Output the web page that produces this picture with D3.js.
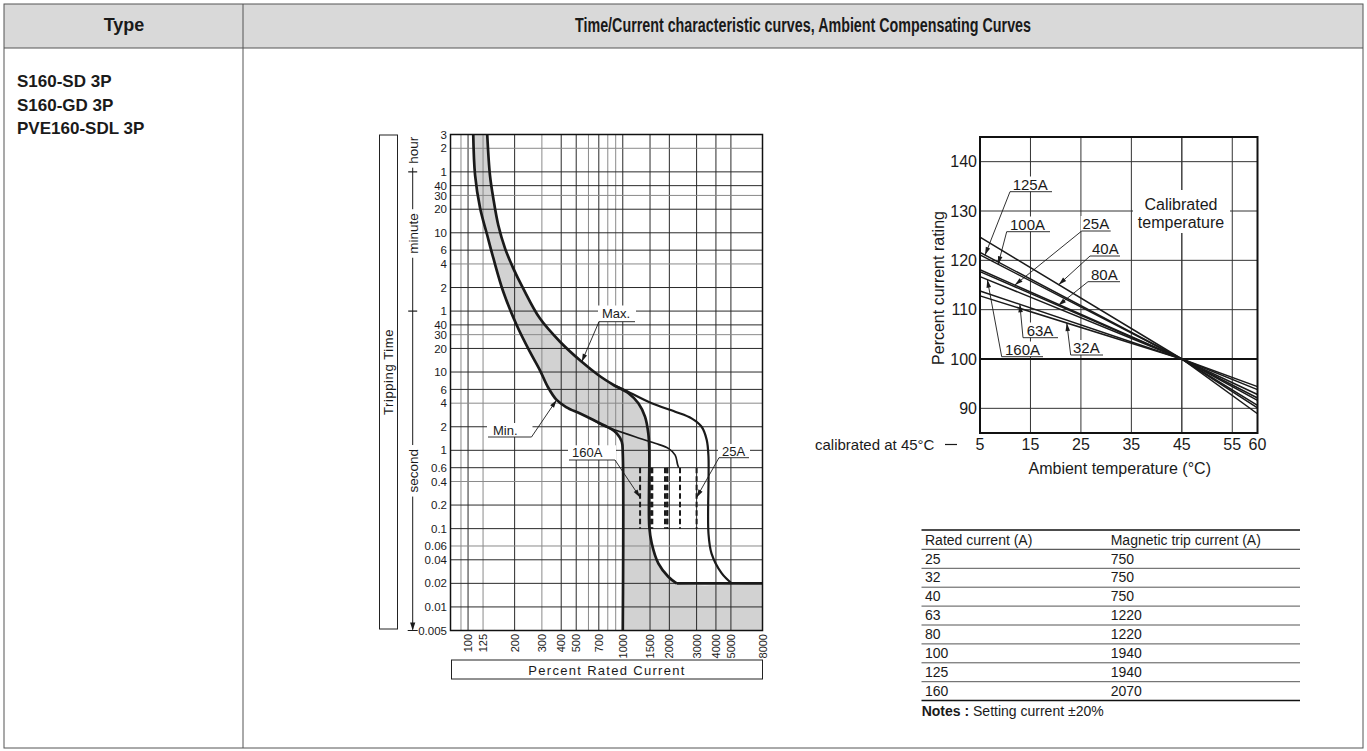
<!DOCTYPE html>
<html>
<head>
<meta charset="utf-8">
<script src="https://cdn.jsdelivr.net/npm/d3@7/dist/d3.min.js"></script>
<style>
html,body{margin:0;padding:0;background:#fff;}
svg{display:block;}
text{font-family:"Liberation Sans",Arial,Helvetica,sans-serif;fill:#1a1a1a;}
</style>
</head>
<body>
<svg id="chart" width="1367" height="751"></svg>
<script>
// ---------------- DATA ----------------
const headerLabels = ["Type", "Time/Current characteristic curves, Ambient Compensating Curves"];
const typeNames = ["S160-SD 3P", "S160-GD 3P", "PVE160-SDL 3P"];

// Tripping time axis (seconds)
const timeTicks = [10800, 7200, 3600, 2400, 1800, 1200, 600, 360, 240, 120, 60, 40, 30, 20, 10, 6, 4, 2, 1, 0.6, 0.4, 0.2, 0.1, 0.06, 0.04, 0.02, 0.01, 0.005];
const timeTickLabels = ["3","2","1","40","30","20","10","6","4","2","1","40","30","20","10","6","4","2","1","0.6","0.4","0.2","0.1","0.06","0.04","0.02","0.01","0.005"];
const timeGridLight = [7200, 1800, 240, 30, 4, 0.4, 0.06];
const timeUnits = ["hour", "minute", "second"];
const timeUnitBounds = [10800, 3600, 60, 0.005];

// Percent rated current axis
const currentTicks = [100,125,200,300,400,500,700,1000,1500,2000,3000,4000,5000,8000];
const currentGrid = [90,100,125,200,300,400,500,600,700,800,900,1000,1500,2000,3000,4000,5000];
const currentGridLight = [90,125,300,600,800,900];

// Curves: [percent rated current, seconds]
const minCurve = [[108,10800],[111,3280],[119.6,1245],[132.9,562],[145.6,286],[168.9,106],[206,39.9],[250.7,18.2],[291,10.6],[328,6.44],[373.5,4.4],[430,3.57],[530,2.95],[646,2.44],[827,1.91],[914,1.65],[985,1.29],[1000,0.9],[1000,0.005]];
const maxCurve = [[133,10800],[138.5,3280],[145.6,1656],[156.7,755],[173.4,380],[196,211],[227,117],[291,48.5],[393,24.4],[543,13.5],[694,9.16],[872,6.83],[1088,5.35],[1261,3.99],[1392,2.69],[1462,1.65],[1484,1.01],[1484,0.106],[1538,0.065],[1697,0.036],[1969,0.0243],[2228,0.02]];
const instantLine = [[2228,0.02],[8000,0.02]];
const curve25Max = [[872,6.83],[1009,6.0],[1538,3.99],[2181,3.11],[2782,2.56],[3233,2.0],[3487,1.36],[3580,0.83],[3580,0.087],[3749,0.048],[4353,0.027],[5053,0.02]];
const curve25Min = [[646,2.44],[751,2.05],[891,1.82],[1200,1.49],[1615,1.23],[1969,1.06],[2181,0.87],[2260,0.66],[2300,0.6]];
const dashTimes = [0.6, 0.1];

// Magnetic trip table
const ratedCurrent = [25,32,40,63,80,100,125,160];
const magneticTrip = [750,750,750,1220,1220,1940,1940,2070];
const tableHeaders = ["Rated current (A)", "Magnetic trip current (A)"];

// Ambient compensating curves
const tempTicks = [5,15,25,35,45,55,60];
const tempGrid = [15,25,35,45,55];
const ratingTicks = [90,100,110,120,130,140];
const seriesNames = ["40A","125A","100A","25A","80A","160A","63A","32A"];
const seriesTemps = [5,45,60];
const ratingAt5  = [124.7,121.6,121.1,118.1,117.7,116.7,113.8,112.8];
const ratingAt45 = [100,100,100,100,100,100,100,100];
const ratingAt60 = [88.9,90.1,90.6,91.6,92.1,92.8,93.8,94.4];
const leaderTemps = [20.6,6.0,8.6,11.9,20.5,6.45,12.9,22.2];

// ---------------- DRAWING ----------------
const svg = d3.select("#chart");
const INK = "#1a1a1a";

// table frame
svg.append("rect").attr("x",4).attr("y",4).attr("width",1359).attr("height",44).attr("fill","#d9d9d9");
svg.append("rect").attr("x",4).attr("y",4).attr("width",1359).attr("height",744)
  .attr("fill","none").attr("stroke","#555").attr("stroke-width",1);
svg.append("line").attr("x1",4).attr("x2",1363).attr("y1",48).attr("y2",48).attr("stroke","#555");
svg.append("line").attr("x1",243).attr("x2",243).attr("y1",4).attr("y2",748).attr("stroke","#555");
svg.append("text").attr("x",124).attr("y",31).attr("text-anchor","middle")
  .attr("font-size",18).attr("font-weight","bold").text(headerLabels[0]);
svg.append("text").attr("x",803).attr("y",31.5).attr("text-anchor","middle")
  .attr("font-size",19.5).attr("font-weight","bold")
  .attr("textLength",456).attr("lengthAdjust","spacingAndGlyphs").text(headerLabels[1]);
svg.selectAll("text.type").data(typeNames).join("text").attr("class","type")
  .attr("x",17).attr("y",(d,i)=>87+i*23.5).attr("font-size",17).attr("font-weight","bold").text(d=>d);

// helpers
function arrow(g, x1, y1, x2, y2, w) {
  g.append("line").attr("x1",x1).attr("y1",y1).attr("x2",x2).attr("y2",y2)
    .attr("stroke",INK).attr("stroke-width",w||0.9);
  const a = Math.atan2(y2-y1, x2-x1), L = 8, H = 2.3;
  const bx = x2 - L*Math.cos(a), by = y2 - L*Math.sin(a);
  const px = -Math.sin(a)*H, py = Math.cos(a)*H;
  g.append("path").attr("d",`M${x2},${y2}L${bx+px},${by+py}L${bx-px},${by-py}Z`).attr("fill",INK);
}
function tag(g, text, tx, base, size, ux1, ux2, uy) {
  g.append("rect").attr("x",ux1-1).attr("y",base-size+1).attr("width",ux2-ux1+2).attr("height",uy-(base-size+1))
    .attr("fill","#fff");
  g.append("text").attr("x",tx).attr("y",base).attr("font-size",size).text(text);
  g.append("line").attr("x1",ux1).attr("x2",ux2).attr("y1",uy).attr("y2",uy).attr("stroke",INK).attr("stroke-width",0.9);
}

// ===== Left chart: time/current =====
const xL = d3.scaleLog().domain([77, 8000]).range([450.5, 762.5]);
const yL = d3.scaleLog().domain([0.005, 10800]).range([630.5, 134.5]);
const gL = svg.append("g");
const smooth = d3.line().x(d=>xL(d[0])).y(d=>yL(d[1])).curve(d3.curveCatmullRom.alpha(0.5));
const straight = d3.line().x(d=>xL(d[0])).y(d=>yL(d[1]));

// shaded band
const upperRev = [instantLine[1]].concat(maxCurve.slice().reverse());
const bandPath = smooth(minCurve) + "L" + xL(8000) + "," + yL(0.005) + smooth(upperRev).replace(/^M/,"L") + "Z";
gL.append("path").attr("d",bandPath).attr("fill","#d2d2d2");

// grid
gL.selectAll("line.vg").data(currentGrid).join("line").attr("class","vg")
  .attr("x1",d=>xL(d)).attr("x2",d=>xL(d)).attr("y1",yL(10800)).attr("y2",yL(0.005))
  .attr("stroke",d=>currentGridLight.includes(d)?"#8a8a8a":"#2a2a2a").attr("stroke-width",1);
gL.selectAll("line.hg").data(timeTicks.slice(1,-1)).join("line").attr("class","hg")
  .attr("x1",xL(77)).attr("x2",xL(8000)).attr("y1",d=>yL(d)).attr("y2",d=>yL(d))
  .attr("stroke",d=>timeGridLight.includes(d)?"#8a8a8a":"#2a2a2a").attr("stroke-width",1);

// dashed magnetic trip lines
const tripPct = ratedCurrent.map((r,i)=>magneticTrip[i]/r*100);
gL.selectAll("line.dash").data(tripPct).join("line").attr("class","dash")
  .attr("x1",d=>xL(d)).attr("x2",d=>xL(d)).attr("y1",yL(dashTimes[0])).attr("y2",yL(dashTimes[1]))
  .attr("stroke",INK).attr("stroke-width",2).attr("stroke-dasharray","5.5,3");

// curves
gL.append("path").attr("d",smooth(curve25Min)).attr("fill","none").attr("stroke",INK).attr("stroke-width",1.7);
gL.append("path").attr("d",smooth(curve25Max)).attr("fill","none").attr("stroke",INK).attr("stroke-width",2.2);
gL.append("path").attr("d",smooth(minCurve)).attr("fill","none").attr("stroke",INK).attr("stroke-width",2.7);
gL.append("path").attr("d",smooth(maxCurve)).attr("fill","none").attr("stroke",INK).attr("stroke-width",2.7);
gL.append("path").attr("d",straight(instantLine)).attr("fill","none").attr("stroke",INK).attr("stroke-width",2.7);

// frame
gL.append("rect").attr("x",xL(77)).attr("y",yL(10800)).attr("width",xL(8000)-xL(77)).attr("height",yL(0.005)-yL(10800))
  .attr("fill","none").attr("stroke","#111").attr("stroke-width",1.5);

// tick labels
gL.selectAll("text.yt").data(timeTicks).join("text").attr("class","yt")
  .attr("x",447).attr("y",d=>yL(d)).attr("dy","0.36em").attr("text-anchor","end")
  .attr("font-size",11.5).text((d,i)=>timeTickLabels[i]);
gL.selectAll("text.xt").data(currentTicks).join("text").attr("class","xt")
  .attr("transform",d=>`translate(${xL(d)+4},634) rotate(-90)`).attr("text-anchor","end")
  .attr("font-size",11).text(d=>d);

// axis title boxes
gL.append("rect").attr("x",379.5).attr("y",135).attr("width",18).attr("height",494)
  .attr("fill","none").attr("stroke","#222").attr("stroke-width",1);
gL.append("text").attr("transform","translate(392.5,372) rotate(-90)").attr("text-anchor","middle")
  .attr("font-size",13).attr("letter-spacing",0.6).text("Tripping Time");
gL.append("rect").attr("x",451.5).attr("y",660).attr("width",311).attr("height",19)
  .attr("fill","none").attr("stroke","#222").attr("stroke-width",1);
gL.append("text").attr("x",607).attr("y",674.5).attr("text-anchor","middle")
  .attr("font-size",13).attr("letter-spacing",1.3).text("Percent Rated Current");

// unit axis
const ux = 412.7;
gL.append("line").attr("x1",ux).attr("x2",ux).attr("y1",yL(10800)+1).attr("y2",yL(0.005)-1).attr("stroke",INK).attr("stroke-width",1);
[yL(10800), yL(0.005)].forEach((yy,i)=>{
  gL.append("line").attr("x1",ux-5).attr("x2",ux+5).attr("y1",yy).attr("y2",yy).attr("stroke",INK).attr("stroke-width",1);
  const dir = i===0 ? 1 : -1;
  gL.append("path").attr("d",`M${ux},${yy}L${ux-2.6},${yy+dir*8}L${ux+2.6},${yy+dir*8}Z`).attr("fill",INK);
});
[3600, 60].forEach(v=>{
  gL.append("line").attr("x1",ux-4.5).attr("x2",ux+4.5).attr("y1",yL(v)).attr("y2",yL(v)).attr("stroke",INK).attr("stroke-width",1.2);
});
const unitOffsets = [-3, -8, 0];
timeUnits.forEach((u,i)=>{
  const cy = (yL(timeUnitBounds[i]) + yL(timeUnitBounds[i+1]))/2 + unitOffsets[i];
  const t = gL.append("text").attr("transform",`translate(${ux+4.8},${cy}) rotate(-90)`).attr("text-anchor","middle")
    .attr("font-size",13.5).text(u);
  const len = t.node().getComputedTextLength();
  gL.insert("rect", () => t.node()).attr("x",ux-6).attr("y",cy-len/2-4).attr("width",12).attr("height",len+8).attr("fill","#fff");
});

// annotations (left)
const pMax = maxCurve[9], pMin = minCurve[10];
tag(gL, "Max.", 602, 317.5, 13, 599, 635, 321.7);
arrow(gL, 599, 321.7, xL(pMax[0]), yL(pMax[1]));
tag(gL, "Min.", 493, 435, 13, 488, 531.5, 437);
arrow(gL, 531.5, 437, xL(pMin[0]), yL(pMin[1]));
tag(gL, "160A", 572, 457.3, 13, 569, 615, 460);
arrow(gL, 615, 460, xL(tripPct[7]), yL(0.25));
tag(gL, "25A", 722, 456, 13, 719, 749, 457.7);
arrow(gL, 719, 457.7, xL(tripPct[0]), yL(0.25));

// ===== Right chart: ambient compensation =====
const xR = d3.scaleLinear().domain([5,60]).range([980,1257.5]);
const yR = d3.scaleLinear().domain([85,145]).range([433,137]);
const gR = svg.append("g");
gR.selectAll("line.rv").data(tempGrid).join("line").attr("class","rv")
  .attr("x1",d=>xR(d)).attr("x2",d=>xR(d)).attr("y1",yR(145)).attr("y2",yR(85))
  .attr("stroke","#333").attr("stroke-width",d=>d===45?1.4:1);
gR.selectAll("line.rh").data(ratingTicks).join("line").attr("class","rh")
  .attr("x1",xR(5)).attr("x2",xR(60)).attr("y1",d=>yR(d)).attr("y2",d=>yR(d))
  .attr("stroke",d=>d===100?"#111":"#333").attr("stroke-width",d=>d===100?2:1);

// white boxes for labels
gR.append("rect").attr("x",1133).attr("y",190).attr("width",97).attr("height",43).attr("fill","#fff");
const rLabels = [
  {n:"40A",  tx:1092,   base:254,   u1:1090,   u2:1120, uy:256},
  {n:"125A", tx:1012.7, base:189.5, u1:1010,   u2:1052, uy:191.7},
  {n:"100A", tx:1010,   base:229.5, u1:1006.7, u2:1050, uy:231.7},
  {n:"25A",  tx:1082.5, base:229,   u1:1081.7, u2:1110.7, uy:231},
  {n:"80A",  tx:1091,   base:279.5, u1:1088,   u2:1120, uy:281.7},
  {n:"160A", tx:1005,   base:354.5, u1:1001.7, u2:1043, uy:356.7},
  {n:"63A",  tx:1026.7, base:335.5, u1:1023,   u2:1058, uy:337.7},
  {n:"32A",  tx:1073,   base:353,   u1:1070.7, u2:1103, uy:355}
];
rLabels.forEach(l=>{
  gR.append("rect").attr("x",l.u1-1).attr("y",l.base-13).attr("width",l.u2-l.u1+2).attr("height",l.uy-l.base+13).attr("fill","#fff");
});

// series
const lineR = d3.line().x(d=>xR(d[0])).y(d=>yR(d[1]));
const series = seriesNames.map((n,i)=>({name:n, pts: seriesTemps.map((t,j)=>[t, [ratingAt5[i],ratingAt45[i],ratingAt60[i]][j]])}));
gR.selectAll("path.s").data(series).join("path").attr("class","s")
  .attr("d",d=>lineR(d.pts)).attr("fill","none").attr("stroke",INK).attr("stroke-width",1.5);

gR.append("rect").attr("x",xR(5)).attr("y",yR(145)).attr("width",xR(60)-xR(5)).attr("height",yR(85)-yR(145))
  .attr("fill","none").attr("stroke","#111").attr("stroke-width",2);

// labels + leaders
function valAt(s, t){ const p=s.pts; const a = t<=45 ? p[0] : p[1], b = t<=45 ? p[1] : p[2];
  return a[1] + (b[1]-a[1])*(t-a[0])/(b[0]-a[0]); }
rLabels.forEach((l,i)=>{
  gR.append("text").attr("x",l.tx).attr("y",l.base).attr("font-size",15).text(l.n);
  gR.append("line").attr("x1",l.u1).attr("x2",l.u2).attr("y1",l.uy).attr("y2",l.uy).attr("stroke",INK).attr("stroke-width",0.9);
  const s = series[seriesNames.indexOf(l.n)];
  const t = leaderTemps[seriesNames.indexOf(l.n)];
  arrow(gR, l.u1, l.uy, xR(t), yR(valAt(s,t)));
});
gR.append("text").attr("x",1181).attr("y",210).attr("text-anchor","middle").attr("font-size",16).text("Calibrated");
gR.append("text").attr("x",1181).attr("y",228).attr("text-anchor","middle").attr("font-size",16).text("temperature");

// axes text
gR.selectAll("text.ry").data(ratingTicks).join("text").attr("class","ry")
  .attr("x",977).attr("y",d=>yR(d)).attr("dy","0.36em").attr("text-anchor","end").attr("font-size",16).text(d=>d);
gR.selectAll("text.rx").data(tempTicks).join("text").attr("class","rx")
  .attr("x",d=>xR(d)).attr("y",449.5).attr("text-anchor","middle").attr("font-size",16).text(d=>d);
gR.append("text").attr("x",xR(32.5)+1).attr("y",474).attr("text-anchor","middle").attr("font-size",16).text("Ambient temperature (°C)");
gR.append("text").attr("transform",`translate(944,${(yR(85)+yR(145))/2+3}) rotate(-90)`).attr("text-anchor","middle")
  .attr("font-size",16).text("Percent current rating");
gR.append("text").attr("x",815).attr("y",449.5).attr("font-size",15).text("calibrated at 45°C");
gR.append("line").attr("x1",945).attr("x2",957).attr("y1",444.5).attr("y2",444.5).attr("stroke",INK).attr("stroke-width",1.2);

// ===== Table =====
const gT = svg.append("g");
const tx1 = 925, tx2 = 1110.7, tL = 921.5, tR = 1300, rowH = 18.9;
gT.append("line").attr("x1",tL).attr("x2",tR).attr("y1",530).attr("y2",530).attr("stroke","#111").attr("stroke-width",1.5);
gT.append("text").attr("x",tx1).attr("y",545).attr("font-size",14).text(tableHeaders[0]);
gT.append("text").attr("x",tx2).attr("y",545).attr("font-size",14).text(tableHeaders[1]);
gT.append("line").attr("x1",tL).attr("x2",tR).attr("y1",549.3).attr("y2",549.3).attr("stroke","#333").attr("stroke-width",1);
ratedCurrent.forEach((r,i)=>{
  const base = 563.5 + i*rowH;
  gT.append("text").attr("x",tx1).attr("y",base).attr("font-size",14).text(r);
  gT.append("text").attr("x",tx2).attr("y",base).attr("font-size",14).text(magneticTrip[i]);
  const last = i===ratedCurrent.length-1;
  gT.append("line").attr("x1",tL).attr("x2",tR).attr("y1",base+4.8).attr("y2",base+4.8)
    .attr("stroke",last?"#111":"#555").attr("stroke-width",last?1.5:1);
});
const note = gT.append("text").attr("x",921.7).attr("y",716).attr("font-size",14);
note.append("tspan").attr("font-weight","bold").text("Notes :");
note.append("tspan").text(" Setting current ±20%");
</script>
</body>
</html>
